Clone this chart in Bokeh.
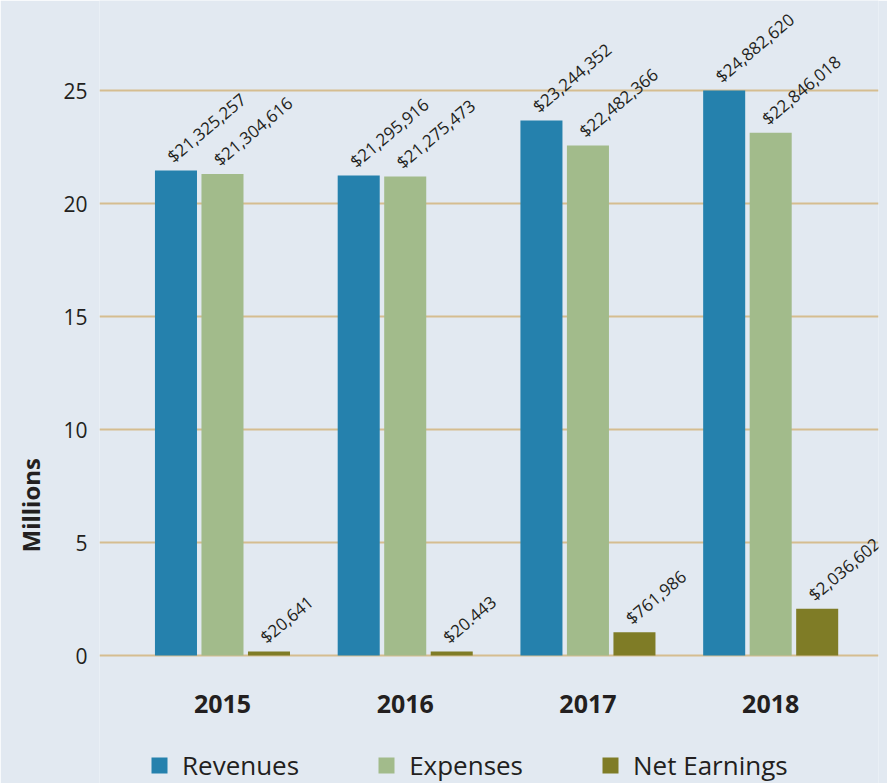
import math
from bokeh.plotting import figure
from bokeh.models import ColumnDataSource, FixedTicker, Legend, LegendItem, Range1d, Title
from bokeh.core.properties import value
from bokeh.embed import file_html
from bokeh.resources import INLINE

# ---- data (millions, as drawn) ----
years = ["2015", "2016", "2017", "2018"]
revenues = [21.46, 21.24, 23.67, 25.0]
expenses = [21.31, 21.19, 22.57, 23.13]
net_earnings = [0.18, 0.18, 1.03, 2.07]
revenue_labels = ["$21,325,257", "$21,295,916", "$23,244,352", "$24,882,620"]
expense_labels = ["$21,304,616", "$21,275,473", "$22,482,366", "$22,846,018"]
net_labels = ["$20,641", "$20.443", "$761,986", "$2,036,602"]
y_ticks = [0, 5, 10, 15, 20, 25]

BG = "#e2e9f1"
TXT = "#231f20"
C_REV = "#2581ad"
C_EXP = "#a2bb8b"
C_NET = "#7f7c26"
GRID = "#d5bd90"
FONT = "Open Sans"

PX = 22.6            # pixels per million on the y scale
idx = list(range(len(years)))
off = 0.2545
bw = 0.23

p = figure(width=887, height=783, output_backend="svg", toolbar_location=None,
           x_range=Range1d(-0.673, 3.59), y_range=Range1d(-128 / PX, 25 + 90 / PX),
           min_border_left=99, min_border_right=9, min_border_top=0, min_border_bottom=0)
p.background_fill_color = BG
p.border_fill_color = BG
p.outline_line_color = None

series = [
    ("Revenues", revenues, revenue_labels, -off, C_REV),
    ("Expenses", expenses, expense_labels, 0.0, C_EXP),
    ("Net Earnings", net_earnings, net_labels, off, C_NET),
]
items = []
for name, vals, labs, dx, col in series:
    src = ColumnDataSource(dict(x=[i + dx for i in idx], top=vals, lab=labs))
    r = p.vbar(x="x", top="top", bottom=0, width=bw, source=src, fill_color=col, line_color=None)
    p.text(x="x", y="top", text="lab", source=src, angle=math.radians(40),
           text_align="left", text_baseline="bottom", x_offset=1, y_offset=-3,
           text_font=value(FONT), text_font_size="17px", text_color=TXT)
    items.append(LegendItem(label=name, renderers=[r]))

# category labels under the groups
ysrc = ColumnDataSource(dict(x=idx, y=[-48 / PX] * len(idx), t=years))
p.text(x="x", y="y", text="t", source=ysrc, text_align="center", text_baseline="middle",
       text_font=value(FONT), text_font_style="bold", text_font_size="25px", text_color=TXT)

# axes
p.xaxis.visible = False

p.yaxis.ticker = FixedTicker(ticks=y_ticks)
p.yaxis.axis_line_color = None
p.yaxis.major_tick_line_color = None
p.yaxis.minor_tick_line_color = None
p.yaxis.major_tick_out = 0
p.yaxis.major_tick_in = 0
p.yaxis.minor_tick_out = 0
p.yaxis.minor_tick_in = 0
p.yaxis.major_label_standoff = 12
p.yaxis.major_label_text_font = FONT
p.yaxis.major_label_text_font_size = "21px"
p.yaxis.major_label_text_color = TXT

p.xgrid.grid_line_color = None
p.ygrid.ticker = FixedTicker(ticks=y_ticks)
p.ygrid.grid_line_color = GRID
p.ygrid.grid_line_width = 2

p.add_layout(Title(text="Millions", align="left", offset=231, standoff=24,
                   vertical_align="top",
                   text_font=FONT, text_font_style="bold", text_font_size="24px",
                   text_color=TXT), "left")

legend = Legend(items=items, orientation="horizontal", location=(50, 0),
                glyph_width=20, glyph_height=20, label_standoff=13, spacing=77,
                padding=0, margin=0, label_text_font=FONT, label_text_font_size="26px",
                label_text_color=TXT, background_fill_alpha=0, border_line_alpha=0)
p.add_layout(legend, "center")

open("out.html", "w").write(file_html(p, INLINE))
